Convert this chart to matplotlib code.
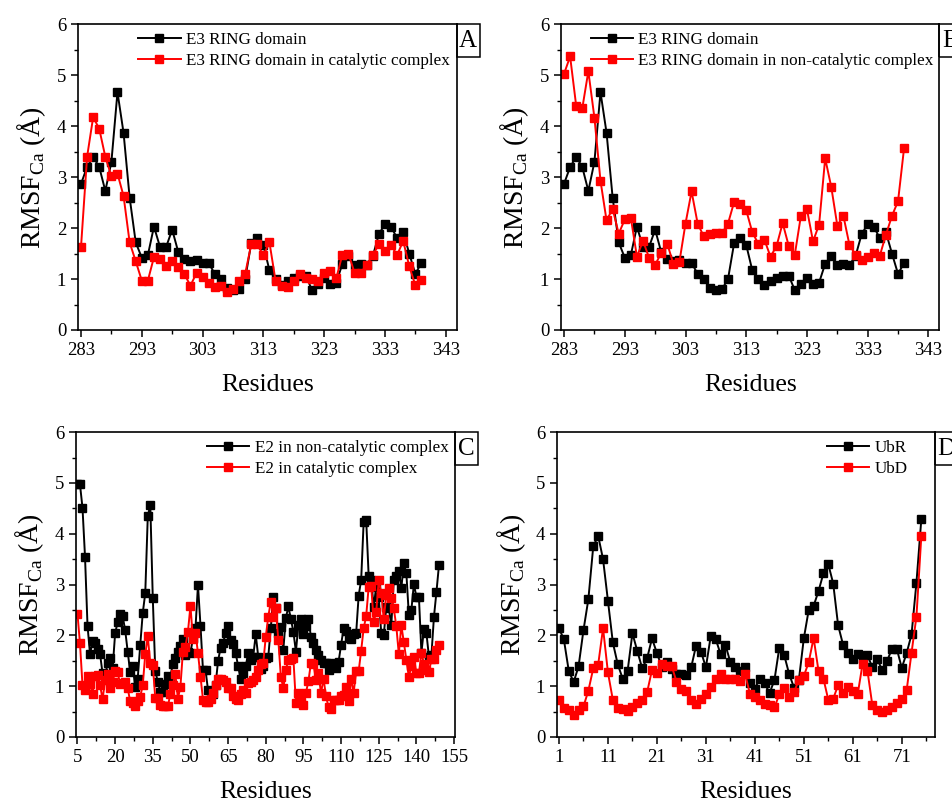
#!/usr/bin/env python3

import numpy as np
import matplotlib.pyplot as plt
from matplotlib.patches import Rectangle
from matplotlib.ticker import MultipleLocator, FixedLocator

plt.rcParams['font.family'] = ['Liberation Serif', 'DejaVu Serif']
plt.rcParams['mathtext.fontset'] = 'custom'
plt.rcParams['mathtext.rm'] = 'Liberation Serif'

# ----------------------------
# Data (RMSF of C-alpha, in Angstrom)
# ----------------------------
e3_start = 283
e3_free = [2.87, 3.20, 3.40, 3.20, 2.73, 3.30, 4.67, 3.87, 2.60, 1.72,
           1.42, 1.47, 2.03, 1.63, 1.63, 1.97, 1.53, 1.40, 1.35, 1.38,
           1.32, 1.32, 1.10, 1.00, 0.82, 0.78, 0.80, 1.00, 1.70, 1.80,
           1.67, 1.17, 1.00, 0.88, 0.97, 1.03, 1.07, 1.07, 0.78, 0.90,
           1.02, 0.90, 0.93, 1.30, 1.45, 1.27, 1.30, 1.28, 1.45, 1.88,
           2.08, 2.03, 1.80, 1.92, 1.50, 1.10, 1.32]
e3_cat = [1.63, 3.40, 4.18, 3.95, 3.40, 3.02, 3.07, 2.63, 1.72, 1.35,
          0.97, 0.97, 1.43, 1.40, 1.25, 1.35, 1.23, 1.10, 0.87, 1.12,
          1.05, 0.92, 0.85, 0.87, 0.75, 0.80, 0.97, 1.10, 1.68, 1.68,
          1.47, 1.72, 0.97, 0.87, 0.85, 0.97, 1.10, 1.02, 1.00, 0.97,
          1.12, 1.15, 1.02, 1.48, 1.50, 1.12, 1.12, 1.28, 1.47, 1.68,
          1.55, 1.67, 1.47, 1.75, 1.25, 0.88, 0.98]
e3_noncat = [5.03, 5.37, 4.40, 4.35, 5.08, 4.17, 2.93, 2.15, 2.38, 1.89,
             2.17, 2.20, 1.44, 1.75, 1.42, 1.28, 1.51, 1.69, 1.30, 1.34,
             2.09, 2.72, 2.09, 1.84, 1.89, 1.90, 1.90, 2.09, 2.51, 2.47,
             2.35, 1.92, 1.69, 1.77, 1.44, 1.65, 2.10, 1.65, 1.48, 2.24,
             2.37, 1.74, 2.07, 3.37, 2.81, 2.05, 2.24, 1.67, 1.48, 1.38,
             1.44, 1.52, 1.46, 1.87, 2.24, 2.53, 3.58]

e2_start = 5
e2_noncat = [4.97, 4.97, 4.51, 3.55, 2.19, 1.63, 1.88, 1.84, 1.74, 1.63,
             1.25, 1.20, 1.45, 1.55, 1.35, 2.04, 2.26, 2.42, 2.38, 2.10,
             1.68, 1.27, 1.40, 0.99, 1.15, 1.81, 2.44, 2.83, 4.34, 4.57,
             2.73, 1.29, 1.09, 0.88, 0.88, 1.04, 1.20, 1.19, 1.44, 1.55,
             1.68, 1.80, 1.92, 1.61, 1.68, 1.66, 1.94, 2.14, 2.99,
             2.19, 1.31, 1.32, 0.92, 0.90, 0.85, 1.02, 1.50, 1.75, 1.85,
             2.05, 2.19, 1.91, 1.83, 1.65, 1.39, 1.14, 1.26, 1.39, 1.65,
             1.52, 1.58, 2.02, 1.58, 1.33, 1.39, 1.55, 1.58, 2.14, 2.76,
             2.53, 2.04, 2.17, 1.72, 2.34, 2.57, 2.32, 2.07, 1.68, 2.20,
             2.33, 2.03, 2.19, 2.32, 1.97, 1.85, 1.72,
             1.62, 1.52, 1.46, 1.45, 1.32, 1.46, 1.38, 1.35, 1.48, 1.81,
             2.14, 2.09, 1.94, 1.93, 2.03, 2.04, 2.78, 3.09, 4.24, 4.27,
             3.16, 3.09, 2.56, 2.96, 2.76, 2.04, 2.00, 2.56, 2.53, 2.20,
             3.09, 3.16, 3.26, 2.93, 3.42, 3.22, 2.40, 2.50, 3.01, 2.76,
             2.76, 1.66, 2.12, 2.04, 1.58, 1.62, 2.37, 2.86, 3.39]
e2_cat = [2.42, 1.84, 1.02, 0.92, 1.20, 1.05, 0.85, 1.20, 1.22, 1.02,
          0.74, 1.12, 1.24, 0.96, 1.08, 1.29, 1.27, 1.04, 1.07, 1.09,
          0.96, 0.70, 0.66, 0.61, 0.70, 0.79, 1.02, 1.63, 1.98, 1.45,
          1.42, 0.76, 0.76, 0.63, 0.61, 0.60, 0.60, 0.85, 1.03, 1.24,
          0.75, 0.99, 1.68, 1.78, 2.07, 2.58, 1.92, 2.05, 1.65,
          1.19, 0.73, 0.69, 0.69, 0.74, 0.87, 1.02, 1.15, 1.15, 1.13,
          1.09, 0.96, 0.96, 0.81, 0.74, 0.73, 0.85, 0.92, 0.86, 1.07,
          1.09, 1.12, 1.19, 1.32, 1.44, 1.46, 1.97, 2.37, 2.66, 2.37,
          2.53, 1.91, 1.19, 0.96, 1.32, 1.52, 1.53, 1.55, 0.67, 0.87,
          0.69, 0.62, 0.87, 1.10, 1.46, 1.44,
          1.12, 1.25, 0.86, 1.15, 0.80, 0.59, 0.55, 0.72, 0.73, 0.73,
          0.80, 0.83, 0.99, 0.70, 1.15, 0.87, 1.29, 1.29, 1.70, 2.14,
          2.38, 2.96, 2.97, 2.27, 2.46, 3.09, 2.83, 2.32, 2.79, 2.93,
          2.73, 2.53, 2.18, 1.63, 2.20, 1.86, 1.52, 1.18, 1.40, 1.58,
          1.25, 1.25, 1.66, 1.44, 1.32, 1.28, 1.53, 1.53, 1.71, 1.81]

ub_start = 1
ub_r = [2.14, 1.92, 1.30, 1.08, 1.39, 2.10, 2.71, 3.75, 3.96, 3.50,
        2.68, 1.86, 1.43, 1.15, 1.29, 2.04, 1.69, 1.35, 1.55, 1.94,
        1.65, 1.38, 1.47, 1.33, 1.24, 1.24, 1.22, 1.37, 1.80, 1.68,
        1.37, 1.99, 1.93, 1.63, 1.81, 1.47, 1.38, 1.29, 1.38, 1.06,
        0.95, 1.15, 1.06, 0.86, 1.12, 1.76, 1.61, 1.24, 0.97, 1.13,
        1.94, 2.50, 2.58, 2.87, 3.22, 3.40, 3.02, 2.20, 1.82, 1.66,
        1.53, 1.63, 1.53, 1.61, 1.37, 1.53, 1.32, 1.50, 1.73, 1.73,
        1.36, 1.65, 2.02, 3.04, 4.29]
ub_d = [0.73, 0.57, 0.53, 0.43, 0.53, 0.60, 0.91, 1.35, 1.42, 2.14,
        1.27, 0.73, 0.57, 0.55, 0.52, 0.59, 0.66, 0.73, 0.88, 1.32,
        1.25, 1.44, 1.40, 1.40, 1.09, 0.95, 0.91, 0.72, 0.65, 0.74,
        0.84, 0.99, 1.15, 1.24, 1.15, 1.15, 1.14, 1.11, 1.24, 0.85,
        0.78, 0.73, 0.64, 0.63, 0.58, 0.84, 0.96, 0.78, 0.89, 1.12,
        1.20, 1.47, 1.95, 1.30, 1.15, 0.73, 0.75, 1.02, 0.86, 0.99,
        0.91, 0.84, 1.44, 1.30, 0.62, 0.54, 0.49, 0.54, 0.58, 0.67,
        0.74, 0.92, 1.66, 2.37, 3.96]

# ----------------------------
# Panel settings
# ----------------------------
panels = [
    dict(rect=[0.0819, 0.5875, 0.3978, 0.382], start=e3_start,
         series=[e3_free, e3_cat],
         labels=["E3 RING domain", "E3 RING domain in catalytic complex"],
         xlim=(282.5, 344.8), xticks=range(283, 344, 10), minor=range(288, 344, 10),
         leg_x=0.158, tag="A"),
    dict(rect=[0.5893, 0.5875, 0.3974, 0.382], start=e3_start,
         series=[e3_free, e3_noncat],
         labels=["E3 RING domain", "E3 RING domain in non-catalytic complex"],
         xlim=(282.5, 344.8), xticks=range(283, 344, 10), minor=range(288, 344, 10),
         leg_x=0.078, tag="B"),
    dict(rect=[0.0798, 0.0788, 0.3982, 0.381], start=e2_start,
         series=[e2_noncat, e2_cat],
         labels=["E2 in non-catalytic complex", "E2 in catalytic complex"],
         xlim=(4.4, 155.4), xticks=range(5, 156, 15), minor=np.arange(12.5, 156, 15),
         leg_x=0.345, tag="C"),
    dict(rect=[0.5851, 0.0788, 0.3971, 0.381], start=ub_start,
         series=[ub_r, ub_d],
         labels=["UbR", "UbD"],
         xlim=(0.6, 77.8), xticks=range(1, 78, 10), minor=range(6, 78, 10),
         leg_x=0.713, tag="D"),
]
colors = ["black", "red"]

fig = plt.figure(figsize=(9.52, 8), dpi=100)

for p in panels:
    ax = fig.add_axes(p["rect"])
    for vals, lab, col in zip(p["series"], p["labels"], colors):
        x = p["start"] + np.arange(len(vals))
        ax.plot(x, vals, color=col, lw=1.4, marker="s", ms=5.5, label=lab)

    ax.set_xlim(*p["xlim"])
    ax.set_ylim(0, 6)
    ax.set_xticks(list(p["xticks"]))
    ax.xaxis.set_minor_locator(FixedLocator(list(p["minor"])))
    ax.yaxis.set_major_locator(MultipleLocator(1))
    ax.yaxis.set_minor_locator(MultipleLocator(0.5))
    ax.tick_params(which="major", direction="out", length=5, width=1.1, labelsize=13.5)
    ax.tick_params(which="minor", direction="out", length=3, width=1.0)
    for s in ax.spines.values():
        s.set_linewidth(1.2)

    ax.set_xlabel("Residues", fontsize=18.5, labelpad=11)
    ax.set_ylabel(r"RMSF$_{\mathregular{Ca}}$ (Å)", fontsize=20, labelpad=6)

    ax.legend(loc="upper left", bbox_to_anchor=(p["leg_x"], 0.975), frameon=False,
              fontsize=12.3, borderpad=0, borderaxespad=0, handlelength=2.5,
              handletextpad=0.3, labelspacing=0.3, numpoints=1)

    # panel tag box, sticking out of the top right corner
    bw = 23 / (p["rect"][2] * 952)
    bh = 33 / (p["rect"][3] * 800)
    ax.add_patch(Rectangle((1.0, 1.0 - bh), bw, bh, transform=ax.transAxes,
                           fill=False, ec="black", lw=1.1, clip_on=False))
    ax.text(1.0 + bw / 2, 1.0 - bh / 2, p["tag"], transform=ax.transAxes,
            ha="center", va="center", fontsize=18, clip_on=False)

fig.savefig("out.png", dpi=100)
